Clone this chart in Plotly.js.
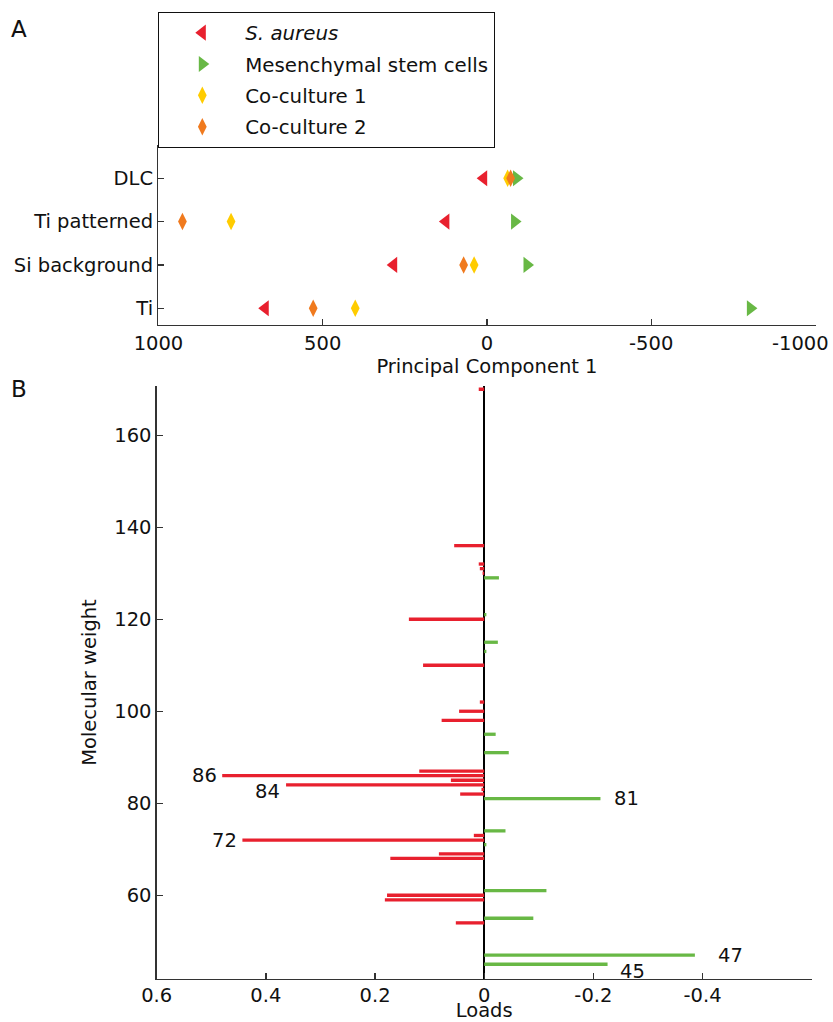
<!DOCTYPE html>
<html><head><meta charset="utf-8">
<script src="https://cdn.plot.ly/plotly-3.0.1.min.js"></script>
<style>html,body{margin:0;padding:0;background:#fff}#chart{width:833px;height:1022px}</style>
</head><body><div id="chart"></div>
<script>
// ---------- Panel A data ----------
const categories = ['Ti', 'Si background', 'Ti patterned', 'DLC'];
const categoryPos = [1, 2, 3, 4];
const seriesNames = ['<i>S. aureus</i>', 'Mesenchymal stem cells', 'Co-culture 1', 'Co-culture 2'];
const saureusPC1 = [675, 284, 125, 10];
const mscPC1 = [-802, -122, -84, -90];
const coculture1PC1 = [401, 39, 779, -63];
const coculture2PC1 = [529, 71, 927, -72];
const pcTicks = [1000, 500, 0, -500, -1000];
const pcTickLabels = ['1000', '500', '0', '-500', '-1000'];

// ---------- Panel B data ----------
const redMW = [170, 136, 132, 131, 130, 120, 110, 102, 100, 98, 87, 86, 85, 84, 83, 82, 73, 72, 69, 68, 60, 59, 54];
const redLoads = [0.01, 0.055, 0.01, 0.008, 0.003, 0.138, 0.112, 0.008, 0.046, 0.078, 0.119, 0.48, 0.061, 0.363, 0.005, 0.044, 0.019, 0.443, 0.083, 0.172, 0.178, 0.182, 0.052];
const greenMW = [129, 121, 115, 113, 95, 91, 81, 74, 71, 61, 55, 47, 45];
const greenLoads = [-0.027, -0.004, -0.025, -0.004, -0.021, -0.045, -0.213, -0.039, -0.004, -0.114, -0.090, -0.386, -0.226];
const loadTicks = [0.6, 0.4, 0.2, 0, -0.2, -0.4];
const loadTickLabels = ['0.6', '0.4', '0.2', '0', '-0.2', '-0.4'];
const mwTicks = [60, 80, 100, 120, 140, 160];
const labelledMW = [86, 84, 72, 81, 47, 45];

// ---------- styles ----------
const FONT = 'DejaVu Sans, Liberation Sans, Arial, sans-serif';
const RED = '#E8202E', GREEN = '#68B845', YELLOW = '#FFCC00', ORANGE = '#F07A1E';
const labelStyle = { // anchor and pixel offsets for labels
  86: {xanchor: 'right', xshift: -3, yshift: 0},
  84: {xanchor: 'right', xshift: -4, yshift: -7},
  72: {xanchor: 'right', xshift: -3, yshift: 0},
  81: {xanchor: 'left', xshift: 12, yshift: 0},
  47: {xanchor: 'left', xshift: 21, yshift: 0},
  45: {xanchor: 'left', xshift: 10, yshift: -7}
};

const W = 833, H = 1022;
const px = v => v / W, py = v => 1 - v / H;

const seriesValues = [saureusPC1, mscPC1, coculture1PC1, coculture2PC1];
const seriesColors = [RED, GREEN, YELLOW, ORANGE];
const seriesSymbols = ['triangle-left', 'triangle-right', 'diamond-tall', 'diamond-tall'];
const seriesSizes = [14, 14, 12.5, 12.5];

const traces = seriesValues.map((vals, i) => ({
  type: 'scatter', mode: 'markers',
  x: vals, y: categoryPos,
  name: seriesNames[i], legendgroup: 'g' + i,
  marker: {symbol: seriesSymbols[i], color: seriesColors[i], size: seriesSizes[i], line: {width: 0}},
  xaxis: 'x', yaxis: 'y', cliponaxis: false
}));

traces.push({
  type: 'bar', orientation: 'h', x: redLoads, y: redMW, width: 0.72,
  marker: {color: RED, line: {width: 0}}, showlegend: false,
  xaxis: 'x2', yaxis: 'y2', name: 'positive'
});
traces.push({
  type: 'bar', orientation: 'h', x: greenLoads, y: greenMW, width: 0.72,
  marker: {color: GREEN, line: {width: 0}}, showlegend: false,
  xaxis: 'x2', yaxis: 'y2', name: 'negative'
});

function loadFor(mw) {
  let i = redMW.indexOf(mw);
  if (i >= 0) return redLoads[i];
  i = greenMW.indexOf(mw);
  return greenLoads[i];
}

const annotations = labelledMW.map(mw => ({
  xref: 'x2', yref: 'y2', x: loadFor(mw), y: mw, text: String(mw),
  showarrow: false, xanchor: labelStyle[mw].xanchor, yanchor: 'middle',
  xshift: labelStyle[mw].xshift, yshift: labelStyle[mw].yshift,
  font: {family: FONT, size: 19.5, color: '#111'}
}));
annotations.push({xref: 'paper', yref: 'paper', x: px(9), y: py(29), text: 'A', showarrow: false,
  xanchor: 'left', yanchor: 'middle', font: {family: FONT, size: 23, color: '#111'}});
annotations.push({xref: 'paper', yref: 'paper', x: px(9), y: py(389), text: 'B', showarrow: false,
  xanchor: 'left', yanchor: 'middle', font: {family: FONT, size: 23, color: '#111'}});
// last PC1 tick label: kept inside the page (right-aligned), as in the original figure
const lastPC = pcTicks.length - 1;
annotations.push({xref: 'x', yref: 'paper', x: pcTicks[lastPC], y: py(343), text: pcTickLabels[lastPC],
  showarrow: false, xanchor: 'right', yanchor: 'middle', xshift: 16,
  font: {family: FONT, size: 19.5, color: '#111'}});

const axisCommon = {
  showgrid: false, zeroline: false, showline: true, linecolor: '#333', linewidth: 1.3,
  ticks: 'inside', ticklen: 6, tickwidth: 1.3, tickcolor: '#333', mirror: false,
  tickfont: {family: FONT, size: 19.5, color: '#111'}, fixedrange: true
};

const pcTickText = pcTickLabels.map((t, i) => i === lastPC ? '' : t);

const layout = {
  width: W, height: H,
  margin: {l: 0, r: 0, t: 0, b: 0},
  paper_bgcolor: '#fff', plot_bgcolor: '#fff',
  font: {family: FONT, color: '#111'},
  showlegend: true,
  legend: {
    x: px(158), y: py(12), xanchor: 'left', yanchor: 'top',
    bordercolor: '#111', borderwidth: 1.3, bgcolor: '#fff',
    font: {family: FONT, size: 19.8, color: '#111'},
    itemwidth: 76, traceorder: 'grouped', tracegroupgap: 2.6
  },
  xaxis: Object.assign({}, axisCommon, {
    domain: [px(158.3), px(815.6)], range: [1000.5, -1000.5],
    tickvals: pcTicks, ticktext: pcTickText, anchor: 'y',
    title: {text: 'Principal Component 1', font: {family: FONT, size: 19.5, color: '#111'}, standoff: 2}
  }),
  yaxis: Object.assign({}, axisCommon, {
    domain: [py(325), py(145)], range: [0.614, 4.768],
    tickvals: categoryPos, ticktext: categories, anchor: 'x'
  }),
  xaxis2: Object.assign({}, axisCommon, {
    domain: [px(156.7), px(811.7)], range: [0.6, -0.6],
    tickvals: loadTicks, ticktext: loadTickLabels, anchor: 'y2',
    ticklabelstandoff: -2,
    zeroline: true, zerolinecolor: '#000', zerolinewidth: 1.5,
    title: {text: 'Loads', font: {family: FONT, size: 19.5, color: '#111'}, standoff: 5}
  }),
  yaxis2: Object.assign({}, axisCommon, {
    domain: [py(979), py(386)], range: [41.8, 170.7],
    tickvals: mwTicks, anchor: 'x2',
    title: {text: 'Molecular weight', font: {family: FONT, size: 19.5, color: '#111'}, standoff: 12}
  }),
  barmode: 'overlay',
  annotations: annotations
};

Plotly.newPlot('chart', traces, layout, {displayModeBar: false, staticPlot: true});
</script>
</body></html>
